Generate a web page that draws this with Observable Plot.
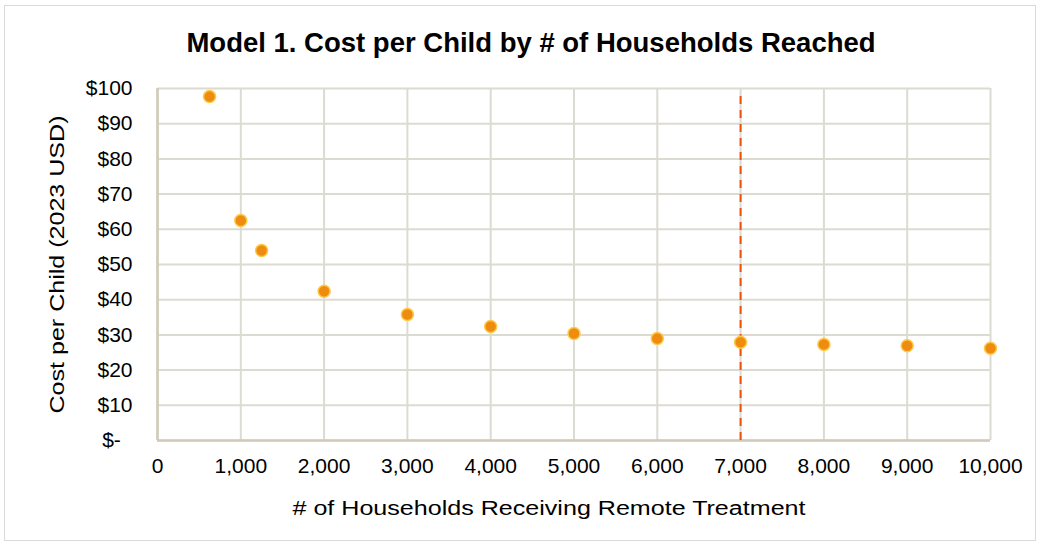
<!DOCTYPE html>
<html>
<head>
<meta charset="utf-8">
<script src="https://cdn.jsdelivr.net/npm/d3@7"></script>
<script src="https://cdn.jsdelivr.net/npm/@observablehq/plot@0.6"></script>
<style>
  html, body { margin: 0; padding: 0; background: #fff; }
  #wrap { position: relative; width: 1040px; height: 544px; overflow: hidden; font-family: "Liberation Sans", Arial, sans-serif; }
  #frame { position: absolute; left: 4px; top: 5px; right: 4px; bottom: 3px; border: 1.5px solid #d9d9d9; pointer-events: none; }
  #title { position: absolute; left: 0; top: 29px; width: 1040px; line-height: 1; text-align: center; font-size: 27.5px; font-weight: bold; color: #000; padding-left: 22px; box-sizing: border-box; }
  #chart { position: absolute; left: 0; top: 70px; }
</style>
</head>
<body>
<div id="wrap">
  <div id="title">Model 1. Cost per Child by # of Households Reached</div>
  <div id="chart"></div>
  <div id="frame"></div>
</div>
<script>
const households = [625, 1000, 1250, 2000, 3000, 4000, 5000, 6000, 7000, 8000, 9000, 10000];
const costPerChild = [97.7, 62.5, 54.0, 42.4, 35.8, 32.4, 30.4, 29.0, 27.9, 27.3, 26.9, 26.2];
const xTicks = [0, 1000, 2000, 3000, 4000, 5000, 6000, 7000, 8000, 9000, 10000];
const yTicks = [0, 10, 20, 30, 40, 50, 60, 70, 80, 90, 100];
const markerX = [7000];
const xLabel = "# of Households Receiving Remote Treatment";
const yLabel = "Cost per Child (2023 USD)";

const data = households.map((h, i) => ({households: h, cost: costPerChild[i]}));

const grid = "#dcdbd2";
const axisCol = "#cfcbb8";

const chart = Plot.plot({
  width: 1040,
  height: 474,
  marginLeft: 157,
  marginRight: 50,
  marginTop: 18,
  marginBottom: 104,
  style: {fontFamily: "'Liberation Sans', Arial, sans-serif", fontSize: "20px", color: "#000", background: "transparent"},
  x: {domain: [0, 10000]},
  y: {domain: [0, 100]},
  marks: [
    Plot.gridX(xTicks, {stroke: grid, strokeOpacity: 1, strokeWidth: 2}),
    Plot.gridY(yTicks, {stroke: grid, strokeOpacity: 1, strokeWidth: 2}),
    Plot.ruleX([0], {stroke: axisCol, strokeWidth: 2.5}),
    Plot.ruleY([0], {stroke: axisCol, strokeWidth: 2.5}),
    Plot.axisX(xTicks, {tickSize: 0, tickPadding: 18, tickFormat: d => d3.format(",")(d), label: null, fill: "#000", fontSize: 21}),
    Plot.axisY(yTicks, {tickSize: 0, tickPadding: 25, tickFormat: d => d === 0 ? "$-\u00a0\u00a0" : "$" + d, label: null, fill: "#000", fontSize: 21}),
    Plot.ruleX(markerX, {y1: 0, y2: 97.8, stroke: "#e8550a", strokeWidth: 2, strokeDasharray: "8,6"}),
    Plot.dot(data, {x: "households", y: "cost", r: 6, fill: "#ee8c10", stroke: "#fdc94a", strokeWidth: 1.5}),
    Plot.text([xLabel], {frameAnchor: "bottom", dy: 74, dx: -25, fontSize: 20, fill: "#000"}),
    Plot.text([yLabel], {frameAnchor: "left", textAnchor: "middle", dx: -100, rotate: -90, fontSize: 20, fill: "#000"})
  ]
});
document.getElementById("chart").appendChild(chart);

// stretch the axis titles horizontally to match the reference's wider rendering
const stretch = {[xLabel]: 513, [yLabel]: 298};
chart.querySelectorAll("text").forEach(t => {
  const s = t.textContent;
  if (stretch[s]) {
    t.setAttribute("textLength", stretch[s]);
    t.setAttribute("lengthAdjust", "spacingAndGlyphs");
  }
});
</script>
</body>
</html>
